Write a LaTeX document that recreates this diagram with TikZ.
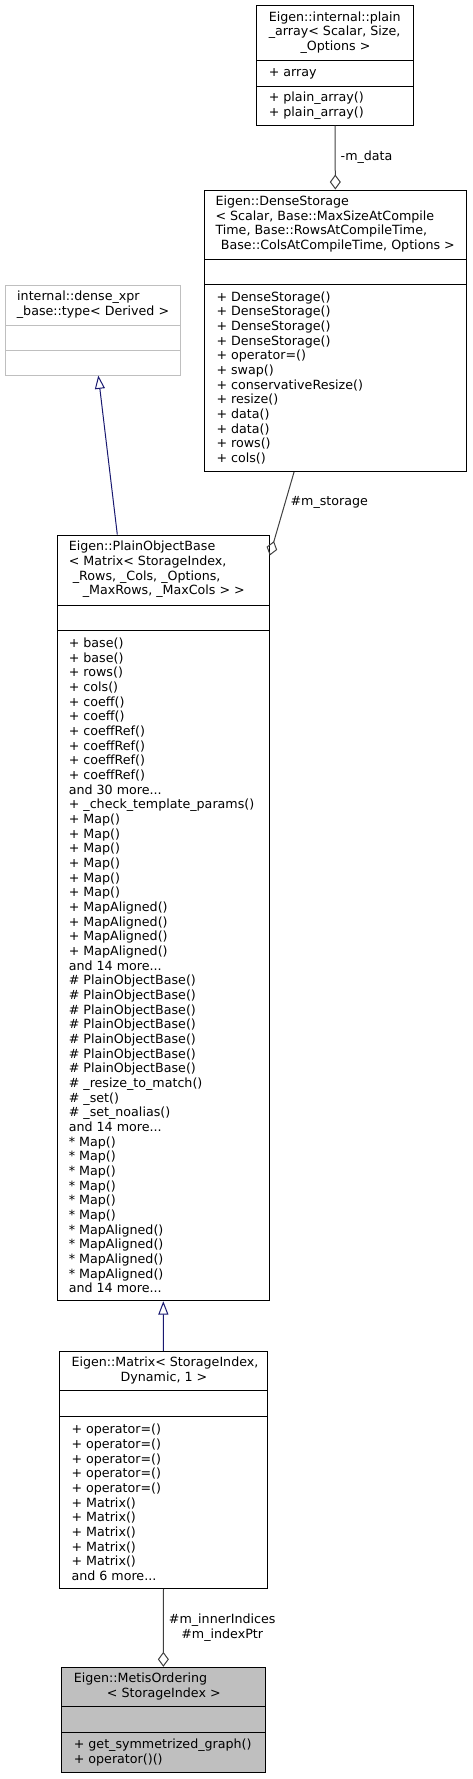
\documentclass[tikz,border=0pt]{standalone}
\usepackage{fontspec}
\setmainfont{DejaVu Sans}
\usetikzlibrary{arrows.meta,fit,calc}

\definecolor{edgeblue}{HTML}{191970}
\definecolor{edgegray}{HTML}{404040}
\definecolor{undoc}{HTML}{BFBFBF}

\tikzset{
  cls/.style={draw=black, inner sep=0pt},
  txt/.style={inner sep=0pt, anchor=west, align=left},
  lbl/.style={inner sep=0pt, anchor=west, xshift=3.75pt},
  inh/.style={draw=edgeblue, -{Triangle[open,length=10pt,width=7.5pt]}},
  aggr/.style={draw=edgegray, {Diamond[open,length=11.25pt,width=8.25pt]}-}
}

\begin{document}
\begin{tikzpicture}[x=0.75pt,y=-0.75pt,line width=0.75pt,font=\fontsize{9.5}{11}\selectfont]
\useasboundingbox (0,0) rectangle (472,1779);

% plain_array
\node[cls, fit={(256.7,5) (413.3,125)}] (plain) {};
\draw (256.7,60.7) -- (413.3,60.7);
\draw (256.7,86) -- (413.3,86);
\node[txt] (plainT) at (268.3,32.9) {\begin{tabular}{@{}l@{}}Eigen::internal::plain\\\_array< Scalar, Size,\\\makebox[100pt]{\_Options >}\end{tabular}};
\node[txt] (plainA) at (268.3,73.4) {+ array};
\node[txt] (plainM) at (268.3,105.5) {+ plain\_array()\\+ plain\_array()};

% DenseStorage
\node[cls, fit={(204,190) (466.7,471.5)}] (dense) {};
\draw (204,259.3) -- (466.7,259.3);
\draw (204,284.3) -- (466.7,284.3);
\node[txt] (denseT) at (215,224.7) {\begin{tabular}{@{}l@{}}Eigen::DenseStorage\\< Scalar, Base::MaxSizeAtCompile\\Time, Base::RowsAtCompileTime,\\\makebox[180.5pt]{\ Base::ColsAtCompileTime, Options >}\end{tabular}};
\node[txt] (denseM) at (216,377.9) {+ DenseStorage()\\+ DenseStorage()\\+ DenseStorage()\\+ DenseStorage()\\+ operator=()\\+ swap()\\+ conservativeResize()\\+ resize()\\+ data()\\+ data()\\+ rows()\\+ cols()};

% dense_xpr_base
\node[cls, draw=undoc, fit={(5,285) (180,375)}] (xpr) {};
\draw[undoc] (5,325) -- (180,325);
\draw[undoc] (5,350) -- (180,350);
\node[txt] (xprT) at (16.7,305) {\begin{tabular}{@{}l@{}}internal::dense\_xpr\\\makebox[113.7pt]{\_base::type< Derived >}\end{tabular}};

% PlainObjectBase
\node[cls, fit={(57.3,535) (269.3,1300.7)}] (pob) {};
\draw (57.3,605) -- (269.3,605);
\draw (57.3,630) -- (269.3,630);
\node[txt] (pobT) at (68.3,570) {\begin{tabular}{@{}l@{}}Eigen::PlainObjectBase\\< Matrix< StorageIndex,\\\ \_Rows, \_Cols, \_Options,\\\makebox[142.5pt]{\_MaxRows, \_MaxCols > >}\end{tabular}};
\node[txt] (pobM) at (68.3,965.3) {+ base()\\+ base()\\+ rows()\\+ cols()\\+ coeff()\\+ coeff()\\+ coeffRef()\\+ coeffRef()\\+ coeffRef()\\+ coeffRef()\\and 30 more...\\+ \_check\_template\_params()\\+ Map()\\+ Map()\\+ Map()\\+ Map()\\+ Map()\\+ Map()\\+ MapAligned()\\+ MapAligned()\\+ MapAligned()\\+ MapAligned()\\and 14 more...\\\# PlainObjectBase()\\\# PlainObjectBase()\\\# PlainObjectBase()\\\# PlainObjectBase()\\\# PlainObjectBase()\\\# PlainObjectBase()\\\# PlainObjectBase()\\\# \_resize\_to\_match()\\\# \_set()\\\# \_set\_noalias()\\and 14 more...\\* Map()\\* Map()\\* Map()\\* Map()\\* Map()\\* Map()\\* MapAligned()\\* MapAligned()\\* MapAligned()\\* MapAligned()\\and 14 more...};

% Matrix
\node[cls, fit={(59.3,1351.7) (267.7,1588.3)}] (mat) {};
\draw (59.3,1390.7) -- (267.7,1390.7);
\draw (59.3,1416.7) -- (267.7,1416.7);
\node[txt] (matT) at (71,1371.2) {\begin{tabular}{@{}l@{}}Eigen::Matrix< StorageIndex,\\\makebox[138.75pt]{Dynamic, 1 >}\end{tabular}};
\node[txt] (matM) at (71,1502.5) {+ operator=()\\+ operator=()\\+ operator=()\\+ operator=()\\+ operator=()\\+ Matrix()\\+ Matrix()\\+ Matrix()\\+ Matrix()\\+ Matrix()\\and 6 more...};

% MetisOrdering
\node[cls, fill=undoc, fit={(61.7,1667.3) (265,1772.7)}] (metis) {};
\draw (61.7,1706.7) -- (265,1706.7);
\draw (61.7,1732.7) -- (265,1732.7);
\node[txt] (metisT) at (73.3,1687) {\begin{tabular}{@{}l@{}}Eigen::MetisOrdering\\\makebox[135pt]{< StorageIndex >}\end{tabular}};
\node[txt] (metisM) at (73.3,1752.7) {+ get\_symmetrized\_graph()\\+ operator()()};

% edges
\draw[aggr] (dense.north) -- node[lbl] {-m\_data} (plain.south);
\draw[aggr] ($(pob.north east)+(0,21)$) -- node[lbl, pos=0.63] {\#m\_storage} ($(dense.south)+(-41.3,0)$);
\draw[inh] ($(pob.north)+(-46,0)$) -- ($(xpr.south)+(5.8,0)$);
\draw[inh] (mat.north) -- (pob.south);
\draw[aggr] (metis.north) -- node[lbl, align=center] {\#m\_innerIndices\\\#m\_indexPtr} (mat.south);

\end{tikzpicture}
\end{document}
